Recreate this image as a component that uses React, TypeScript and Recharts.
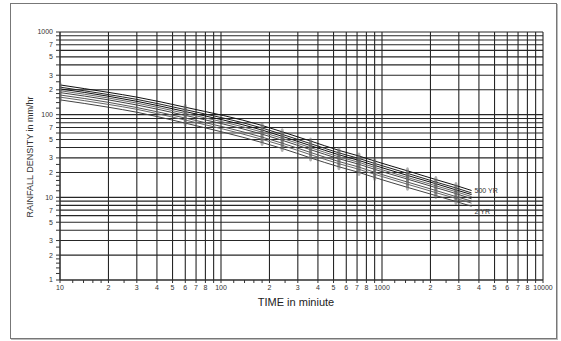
import React from "react"
import { LineChart, Line, XAxis, YAxis, CartesianGrid } from "recharts"

// storm durations (minutes)
const durations = [10, 20, 30, 60, 180, 240, 360, 540, 720, 900, 1440, 2160, 2880, 3600]
// durations that carry the grey observed-data smears
const markedDurations = [10, 60, 180, 240, 360, 540, 720, 900, 1440, 2160, 2880]

// rainfall intensity (mm/hr) per return period
const rp2 = [151, 123, 107, 79, 46, 39, 30, 23.4, 20, 17.4, 13.2, 10.5, 8.9, 7.8]
const rp5 = [163, 133, 116, 86, 50.3, 42.6, 32.8, 25.5, 21.8, 19, 14.4, 11.4, 9.7, 8.5]
const rp10 = [173, 141, 122, 91, 53.5, 45.2, 34.9, 27.1, 23.2, 20.1, 15.3, 12.1, 10.2, 9.0]
const rp25 = [185, 151, 131, 98, 58.1, 49, 37.7, 29.3, 25.1, 21.8, 16.6, 13.1, 11.1, 9.6]
const rp50 = [195, 159, 138, 103.5, 61.5, 51.8, 39.9, 30.9, 26.5, 23, 17.4, 13.8, 11.7, 10.2]
const rp100 = [205, 167, 145, 109, 65.1, 54.7, 42.2, 32.7, 27.9, 24.3, 18.4, 14.6, 12.3, 10.8]
const rp200 = [215, 175, 153, 115, 68.9, 57.8, 44.6, 34.5, 29.5, 25.7, 19.5, 15.3, 13.0, 11.3]
const rp500 = [229, 186, 163, 123, 74, 62, 48, 37, 31.6, 27.5, 20.9, 16.4, 13.9, 12.1]

const seriesKeys = ["rp2", "rp5", "rp10", "rp25", "rp50", "rp100", "rp200", "rp500"]
const seriesColors = ["#444", "#666", "#555", "#444", "#666", "#111", "#222", "#111"]
const endLabels: Record<string, string> = { rp500: "500 YR", rp2: "2 YR" }

// axis ticks / grid
const xGrid = [
  10, 20, 30, 40, 50, 60, 70, 80, 90,
  100, 200, 300, 400, 500, 600, 700, 800, 900,
  1000, 2000, 3000, 4000, 5000, 6000, 7000, 8000, 9000, 10000,
]
const xMinor = [12, 14, 16, 18, 25, 120, 140, 160, 180, 250, 1200, 1400, 1600, 1800, 2500]
const yGrid = [
  1, 2, 3, 4, 5, 6, 7, 8, 9,
  10, 20, 30, 40, 50, 60, 70, 80, 90,
  100, 200, 300, 400, 500, 600, 700, 800, 900, 1000,
]
const yMinor = [1.2, 1.4, 1.6, 1.8, 2.5, 12, 14, 16, 18, 25, 120, 140, 160, 180, 250]
const yLabelDigits = [2, 3, 5, 7]
const xLabelDigits = [2, 3, 4, 5, 6, 7, 8]

const series: Record<string, number[]> = { rp2, rp5, rp10, rp25, rp50, rp100, rp200, rp500 }
const data = durations.map((t, i) => {
  const row: Record<string, number> = { t }
  seriesKeys.forEach((k) => (row[k] = series[k][i]))
  return row
})

const leading = (v: number) => {
  const p = Math.pow(10, Math.floor(Math.log10(v) + 1e-9))
  return Math.round((v / p) * 1000) / 1000
}
const fmt = (digits: number[]) => (v: number) => {
  const d = leading(v)
  if (d === 1) return String(v)
  return digits.includes(d) ? String(d) : ""
}

const font = "'Liberation Sans', Arial, sans-serif"

export default function App() {
  return (
    <div style={{ position: "absolute", left: 0, top: 0, width: 561, height: 341, background: "#fff", fontFamily: font }}>
      <div
        style={{
          position: "absolute", left: 10, top: 3, width: 545, height: 334,
          border: "1px solid #777", boxShadow: "1px 1px 0 #bbb",
        }}
      />
      <div style={{ position: "absolute", left: 0, top: 0 }}>
        <LineChart width={561} height={341} data={data} margin={{ top: 32, right: 18, bottom: 31, left: 20 }}>
          <CartesianGrid
            verticalValues={xGrid}
            horizontalValues={yGrid}
            stroke="#262626"
            strokeWidth={1.1}
          />
          <XAxis
            dataKey="t"
            type="number"
            scale="log"
            domain={[10, 10000]}
            allowDataOverflow
            ticks={[...xGrid, ...xMinor].sort((a, b) => a - b)}
            interval={0}
            tickFormatter={fmt(xLabelDigits)}
            tickSize={3}
            tickMargin={2}
            height={30}
            stroke="#333"
            tick={{ fontSize: 7, fill: "#333", fontFamily: font }}
          />
          <YAxis
            type="number"
            scale="log"
            domain={[1, 1000]}
            allowDataOverflow
            ticks={[...yGrid, ...yMinor].sort((a, b) => a - b)}
            interval={0}
            tickFormatter={fmt(yLabelDigits)}
            tickSize={4}
            tickMargin={3}
            width={40}
            stroke="#333"
            tick={{ fontSize: 7, fill: "#333", fontFamily: font }}
          />
          {seriesKeys.map((k, si) => (
            <Line
              key={k}
              dataKey={k}
              type="monotone"
              stroke={seriesColors[si]}
              strokeWidth={1}
              isAnimationActive={false}
              dot={(p: any) =>
                markedDurations.includes(durations[p.index]) ? (
                  <ellipse key={`${k}-d${p.index}`} cx={p.cx} cy={p.cy} rx={1.6} ry={3.5} fill="#666" fillOpacity={0.5} />
                ) : (
                  <g key={`${k}-d${p.index}`} />
                )
              }
              activeDot={false}
              label={(p: any) =>
                endLabels[k] && p.index === durations.length - 1 ? (
                  <text key={`${k}-l`} x={p.x + 3} y={p.y + (k === "rp2" ? 8 : 3)} fontSize={7} fill="#333" fontFamily={font}>
                    {endLabels[k]}
                  </text>
                ) : (
                  <g key={`${k}-l${p.index}`} />
                )
              }
            />
          ))}
        </LineChart>
      </div>
      <div
        style={{
          position: "absolute", left: 30, top: 157, transform: "translate(-50%, -50%) rotate(-90deg)",
          whiteSpace: "nowrap", fontSize: 9, color: "#333",
        }}
      >
        RAINFALL DENSITY in mm/hr
      </div>
      <div
        style={{
          position: "absolute", left: 296, top: 302, transform: "translate(-50%, -50%)",
          whiteSpace: "nowrap", fontSize: 11, color: "#222",
        }}
      >
        TIME in miniute
      </div>
    </div>
  )
}
